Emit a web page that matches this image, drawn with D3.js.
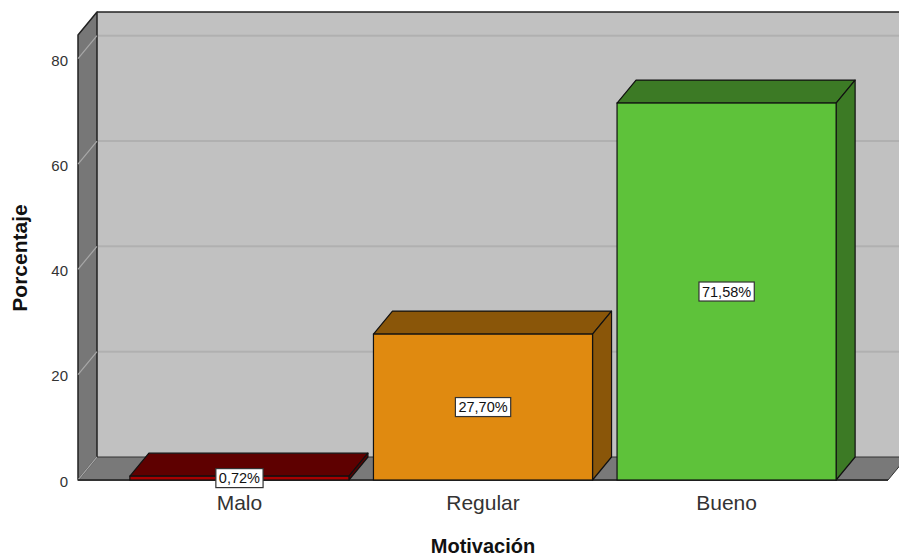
<!DOCTYPE html>
<html>
<head>
<meta charset="utf-8">
<script src="https://cdn.jsdelivr.net/npm/d3@7"></script>
<style>
  html, body { margin: 0; padding: 0; background: #fff; }
  svg { display: block; font-family: "Liberation Sans", Arial, sans-serif; }
</style>
</head>
<body>
<svg id="chart" width="899" height="557"></svg>
<script>
// Data
const categories = ["Malo", "Regular", "Bueno"];
const percentages = [0.72, 27.70, 71.58];
const valueLabels = ["0,72%", "27,70%", "71,58%"];
const yTicks = [0, 20, 40, 60, 80];
const frontColors = ["#a80000", "#e08a10", "#5ec23a"];
const shadeColors = ["#5e0000", "#8a5609", "#3c7a25"];

const svg = d3.select("#chart");
const W = 899, H = 557;

// Front plane of the 3D box and depth offset
const x0 = 78, x1 = 888, yBase = 480;
const DX = 19, DY = -23;

const x = d3.scaleBand().domain(categories).range([x0, x1])
  .paddingInner(0.1006).paddingOuter(0.213);
const y = d3.scaleLinear().domain([0, 84.5]).range([yBase, 35]);
const yTop = y.range()[1];

const poly = pts => pts.map(p => p.join(",")).join(" ");

// Back wall
svg.append("rect")
  .attr("x", x0 + DX).attr("y", yTop + DY)
  .attr("width", W - (x0 + DX) + 20).attr("height", yBase - yTop)
  .attr("fill", "#c1c1c1");

// Back wall gridlines
svg.append("g").selectAll("line").data(yTicks.filter(d => d > 0)).join("line")
  .attr("x1", x0 + DX).attr("x2", W + 20)
  .attr("y1", d => y(d) + DY).attr("y2", d => y(d) + DY)
  .attr("stroke", "#b0b0b0").attr("stroke-width", 2);

// Back wall top edge
svg.append("line")
  .attr("x1", x0 + DX).attr("x2", W + 20)
  .attr("y1", yTop + DY).attr("y2", yTop + DY)
  .attr("stroke", "#222").attr("stroke-width", 1.5);

// Floor
svg.append("polygon")
  .attr("points", poly([[x0, yBase], [x0 + DX, yBase + DY], [x1 + DX, yBase + DY], [x1, yBase]]))
  .attr("fill", "#797979").attr("stroke", "#333").attr("stroke-width", 1)
  .attr("stroke-linejoin", "round");

// Left wall
svg.append("polygon")
  .attr("points", poly([[x0, yBase], [x0, yTop], [x0 + DX, yTop + DY], [x0 + DX, yBase + DY]]))
  .attr("fill", "#777777").attr("stroke", "#222").attr("stroke-width", 1.5)
  .attr("stroke-linejoin", "round");

// Left wall gridlines
svg.append("g").selectAll("line").data(yTicks).join("line")
  .attr("x1", x0).attr("x2", x0 + DX)
  .attr("y1", d => y(d)).attr("y2", d => y(d) + DY)
  .attr("stroke", "#a8a8a8").attr("stroke-width", 1.2);

// Front baseline
svg.append("line")
  .attr("x1", x0).attr("x2", x1).attr("y1", yBase).attr("y2", yBase)
  .attr("stroke", "#333").attr("stroke-width", 2);

// Bars as extruded boxes
const bars = svg.append("g").selectAll("g").data(categories).join("g");
bars.each(function (c, i) {
  const g = d3.select(this);
  const bx = x(c), bw = x.bandwidth();
  const top = y(percentages[i]);
  // top face
  g.append("polygon")
    .attr("points", poly([[bx, top], [bx + DX, top + DY], [bx + bw + DX, top + DY], [bx + bw, top]]))
    .attr("fill", shadeColors[i]).attr("stroke", "#111").attr("stroke-width", 1.2)
    .attr("stroke-linejoin", "round");
  // side face
  g.append("polygon")
    .attr("points", poly([[bx + bw, top], [bx + bw + DX, top + DY], [bx + bw + DX, yBase + DY], [bx + bw, yBase]]))
    .attr("fill", shadeColors[i]).attr("stroke", "#111").attr("stroke-width", 1.2)
    .attr("stroke-linejoin", "round");
  // front face
  g.append("rect")
    .attr("x", bx).attr("y", top).attr("width", bw).attr("height", yBase - top)
    .attr("fill", frontColors[i]).attr("stroke", "#111").attr("stroke-width", 1.2);
});

// Y axis tick labels
const yAxis = svg.append("g").attr("transform", `translate(${x0},1.5)`)
  .call(d3.axisLeft(y).tickValues(yTicks).tickSize(0).tickPadding(10).tickFormat(d3.format("d")));
yAxis.select(".domain").remove();
yAxis.selectAll("text").attr("font-size", 15).attr("fill", "#333")
  .attr("font-family", "'Liberation Sans', Arial, sans-serif");

// X axis category labels
const xAxis = svg.append("g").attr("transform", `translate(0,${yBase})`)
  .call(d3.axisBottom(x).tickSize(0).tickPadding(15));
xAxis.select(".domain").remove();
xAxis.selectAll("text").attr("font-size", 21).attr("fill", "#333")
  .attr("font-family", "'Liberation Sans', Arial, sans-serif");

// Value labels in white boxes at the centre of each bar front
const labels = svg.append("g").selectAll("g").data(categories).join("g")
  .attr("transform", (c, i) => {
    const cy = (y(percentages[i]) + yBase) / 2;
    return `translate(${x(c) + x.bandwidth() / 2},${cy})`;
  });
labels.append("text")
  .attr("text-anchor", "middle").attr("dy", "0.35em")
  .attr("font-size", 14.5).attr("fill", "#111")
  .text((c, i) => valueLabels[i]);
labels.each(function () {
  const g = d3.select(this);
  const bb = g.select("text").node().getBBox();
  g.insert("rect", "text")
    .attr("x", bb.x - 3).attr("y", -9.5)
    .attr("width", bb.width + 6).attr("height", 19)
    .attr("fill", "#fff").attr("stroke", "#333").attr("stroke-width", 1.2);
});

// Axis titles
svg.append("text")
  .attr("x", 483).attr("y", 553)
  .attr("text-anchor", "middle").attr("font-size", 20).attr("font-weight", "bold")
  .attr("fill", "#111").text("Motivación");

svg.append("text")
  .attr("transform", "translate(27,258) rotate(-90)")
  .attr("text-anchor", "middle").attr("font-size", 21).attr("font-weight", "bold")
  .attr("fill", "#111").text("Porcentaje");
</script>
</body>
</html>
